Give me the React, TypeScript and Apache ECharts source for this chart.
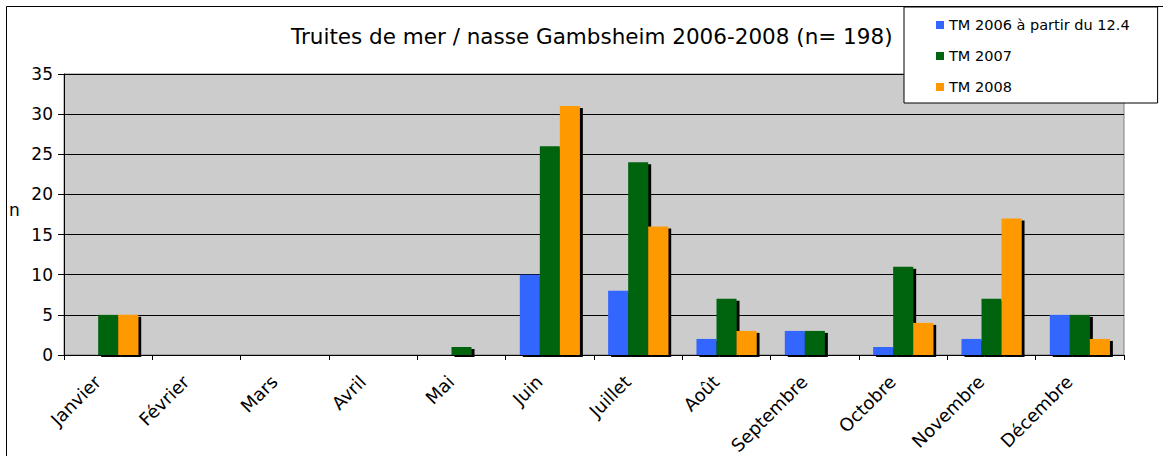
import React, { useEffect, useRef } from "react";
import * as echarts from "echarts";

const categories = ["Janvier", "Février", "Mars", "Avril", "Mai", "Juin", "Juillet", "Août", "Septembre", "Octobre", "Novembre", "Décembre"];
const tm2006 = [0, 0, 0, 0, 0, 10, 8, 2, 3, 1, 2, 5];
const tm2007 = [5, 0, 0, 0, 1, 26, 24, 7, 3, 11, 7, 5];
const tm2008 = [5, 0, 0, 0, 0, 31, 16, 3, 0, 4, 17, 2];
const seriesNames = ["TM 2006 à partir du 12.4", "TM 2007", "TM 2008"];
const seriesColors = ["#3366ff", "#006411", "#ff9900"];
const titleText = "Truites de mer / nasse Gambsheim 2006-2008 (n= 198)";

const FONT = "DejaVu Sans, Verdana, sans-serif";

export default function App() {
  const ref = useRef<HTMLDivElement>(null);
  useEffect(() => {
    document.body.style.margin = "0";
    if (!ref.current) return;
    const chart = echarts.init(ref.current, null, { renderer: "svg" });
    const barStyle = {
      shadowColor: "#000",
      shadowOffsetX: 3,
      shadowOffsetY: 2,
      shadowBlur: 0,
    };
    const data = [tm2006, tm2007, tm2008];
    chart.setOption({
      animation: false,
      backgroundColor: "#fff",
      textStyle: { fontFamily: FONT, color: "#000" },
      title: {
        text: titleText,
        left: 286,
        top: 20,
        textStyle: { fontFamily: FONT, fontSize: 21.5, fontWeight: "normal", color: "#000" },
      },
      legend: {
        orient: "vertical",
        left: 904,
        top: 7,
        padding: [10, 28, 8, 32],
        itemWidth: 8,
        itemHeight: 8,
        itemGap: 15,
        icon: "rect",
        backgroundColor: "#fff",
        borderColor: "#000",
        borderWidth: 1,
        data: seriesNames,
        textStyle: { fontFamily: FONT, fontSize: 14.5, color: "#000", lineHeight: 16 },
      },
      grid: {
        left: 64,
        right: 39,
        top: 74,
        bottom: 101,
        show: true,
        containLabel: false,
        outerBoundsMode: "none",
        backgroundColor: "#cccccc",
        borderColor: "#808080",
        borderWidth: 1,
      },
      xAxis: {
        type: "category",
        data: categories,
        axisLine: { lineStyle: { color: "#000", width: 1 } },
        axisTick: { show: true, length: 5, lineStyle: { color: "#000" } },
        axisLabel: {
          rotate: 45,
          fontFamily: FONT,
          fontSize: 18,
          color: "#000",
          margin: 13,
          padding: [0, 15, 0, 0],
        },
      },
      yAxis: {
        type: "value",
        min: 0,
        max: 35,
        interval: 5,
        axisLine: { show: true, lineStyle: { color: "#000", width: 1 } },
        axisTick: { show: true, length: 6, lineStyle: { color: "#000" } },
        axisLabel: { fontFamily: FONT, fontSize: 17, color: "#000", margin: 11 },
        splitLine: { show: true, lineStyle: { color: "#000", width: 1 } },
      },
      graphic: [
        {
          type: "rect",
          shape: { x: 6.5, y: 6.5, width: 1200, height: 500 },
          style: { fill: "none", stroke: "#000", lineWidth: 1 },
          silent: true,
          z: -10,
        },
        {
          type: "text",
          left: 9,
          top: 201,
          style: { text: "n", fontFamily: FONT, fontSize: 17, fill: "#000" },
        },
      ],
      series: seriesNames.map((name, i) => ({
        name,
        type: "bar",
        data: data[i],
        barGap: "0%",
        barCategoryGap: "32%",
        itemStyle: { color: seriesColors[i], ...barStyle },
      })),
    });
    return () => chart.dispose();
  }, []);
  return <div ref={ref} style={{ width: 1163, height: 456 }} />;
}
